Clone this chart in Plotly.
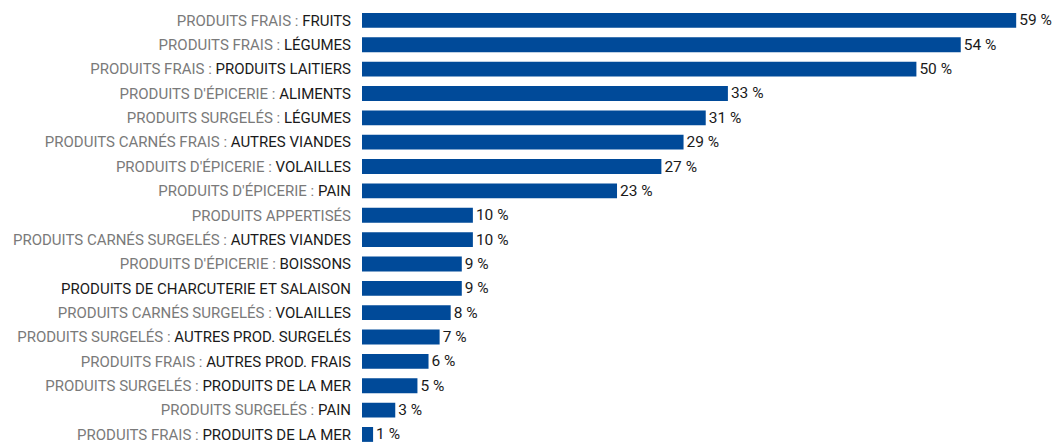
import plotly.graph_objects as go

prefixes = [
    "PRODUITS FRAIS : ", "PRODUITS FRAIS : ", "PRODUITS FRAIS : ",
    "PRODUITS D'ÉPICERIE : ", "PRODUITS SURGELÉS : ", "PRODUITS CARNÉS FRAIS : ",
    "PRODUITS D'ÉPICERIE : ", "PRODUITS D'ÉPICERIE : ", "PRODUITS APPERTISÉS",
    "PRODUITS CARNÉS SURGELÉS : ", "PRODUITS D'ÉPICERIE : ", "",
    "PRODUITS CARNÉS SURGELÉS : ", "PRODUITS SURGELÉS : ", "PRODUITS FRAIS : ",
    "PRODUITS SURGELÉS : ", "PRODUITS SURGELÉS : ", "PRODUITS FRAIS : ",
]
suffixes = [
    "FRUITS", "LÉGUMES", "PRODUITS LAITIERS",
    "ALIMENTS", "LÉGUMES", "AUTRES VIANDES",
    "VOLAILLES", "PAIN", "",
    "AUTRES VIANDES", "BOISSONS", "PRODUITS DE CHARCUTERIE ET SALAISON",
    "VOLAILLES", "AUTRES PROD. SURGELÉS", "AUTRES PROD. FRAIS",
    "PRODUITS DE LA MER", "PAIN", "PRODUITS DE LA MER",
]
values = [59, 54, 50, 33, 31, 29, 27, 23, 10, 10, 9, 9, 8, 7, 6, 5, 3, 1]

GRAY = "#7a7a7a"
BLACK = "#1a1a1a"
BLUE = "#004a99"

ticktext = []
for p, s in zip(prefixes, suffixes):
    t = ""
    if p:
        t += f"<span style='color:{GRAY}'>{p}</span>"
    if s:
        t += f"<span style='color:{BLACK}'>{s}</span>"
    ticktext.append(t)

idx = list(range(len(values)))

fig = go.Figure(go.Bar(
    x=values, y=idx, orientation="h",
    marker=dict(color=BLUE, line=dict(width=0)),
    text=[f"{v}\u00a0%" for v in values],
    textposition="outside",
    constraintext="none",
    textfont=dict(family="Roboto", size=15.5, color=BLACK),
    cliponaxis=False,
    hoverinfo="skip",
))

fig.update_layout(
    width=1055, height=444,
    margin=dict(l=362, r=0, t=8, b=0),
    paper_bgcolor="white", plot_bgcolor="white",
    bargap=0.39,
    showlegend=False,
    font=dict(family="Roboto", size=15, color=BLACK),
    xaxis=dict(range=[0, 62.5], visible=False, showgrid=False, zeroline=False),
    yaxis=dict(
        range=[17.31, -0.51],
        tickmode="array", tickvals=idx, ticktext=ticktext,
        showgrid=False, zeroline=False, showline=False,
        ticks="", ticklabelstandoff=10,
        ticklabeloverflow="allow",
        tickfont=dict(family="Roboto", size=15, color=BLACK),
    ),
)

fig.write_html(
    "out.html",
    config={"displayModeBar": False},
    post_script="document.body.style.margin='0';document.body.style.overflow='hidden';document.documentElement.style.overflow='hidden';",
)
